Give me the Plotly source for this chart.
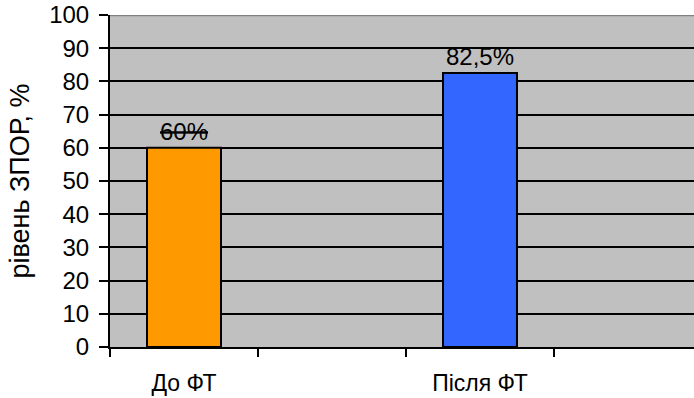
import plotly.graph_objects as go

# Рівень ЗПОР до та після фізичної терапії
categories = ["До ФТ", "Після ФТ"]
values = [60, 82.5]
bar_colors = ["#FF9900", "#3366FF"]
# Повний набір позицій на осі X (порожні категорії лишаються як проміжки)
axis_categories = ["До ФТ", " ", "Після ФТ", "  "]
y_ticks = list(range(0, 101, 10))


def fmt(v):
    return f"{v:g}%".replace(".", ",")


labels = [fmt(v) for v in values]
labels[0] = f"<s>{labels[0]}</s>"

FONT = "Liberation Sans, Arial, sans-serif"

fig = go.Figure(
    go.Bar(
        x=categories,
        y=values,
        width=0.5,
        marker=dict(color=bar_colors, line=dict(color="black", width=2)),
        text=labels,
        textposition="outside",
        textfont=dict(family=FONT, size=24, color="black"),
        cliponaxis=False,
    )
)

fig.update_layout(
    width=694,
    height=398,
    margin=dict(l=110, r=0, t=15, b=51),
    paper_bgcolor="white",
    plot_bgcolor="#C0C0C0",
    showlegend=False,
    font=dict(family=FONT, size=24, color="black"),
)

fig.update_xaxes(
    type="category",
    categoryorder="array",
    categoryarray=axis_categories,
    range=[-0.5, 3.446],
    tickson="boundaries",
    ticks="outside",
    ticklen=8,
    tickwidth=2,
    tickcolor="black",
    showgrid=False,
    showline=True,
    linecolor="black",
    linewidth=2,
    ticklabelstandoff=14,
    tickfont=dict(family=FONT, size=23, color="black"),
)

fig.update_yaxes(
    range=[0, 100],
    tickvals=y_ticks,
    ticks="outside",
    ticklen=9,
    tickwidth=2,
    tickcolor="black",
    showgrid=True,
    gridcolor="black",
    gridwidth=2,
    zeroline=False,
    showline=True,
    linecolor="black",
    linewidth=2,
    ticklabelstandoff=5,
    tickfont=dict(family=FONT, size=24, color="black"),
    title=dict(text="рівень ЗПОР, %", font=dict(family=FONT, size=27, color="black"), standoff=12),
)

# Верхня межа області побудови
fig.add_shape(
    type="line", xref="paper", yref="y",
    x0=0, x1=1, y0=100, y1=100,
    line=dict(color="#808080", width=2.5),
    layer="above",
)

fig.write_html("out.html")
